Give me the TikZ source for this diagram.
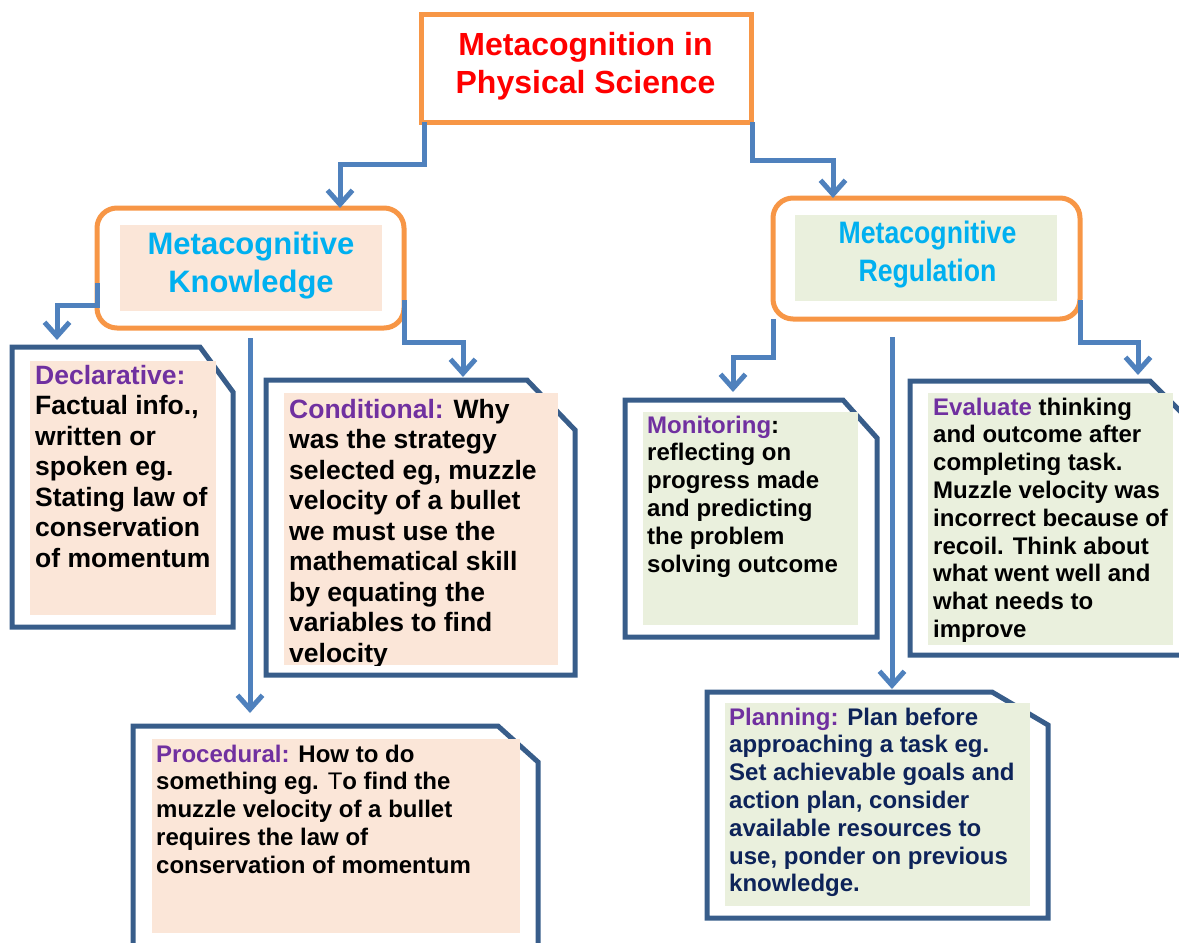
\documentclass[tikz,border=0pt]{standalone}
\usepackage{fontspec}
\setmainfont{Liberation Sans}
\newfontfamily\narrowsans{Liberation Sans}[FakeStretch=0.86]
\usetikzlibrary{arrows.meta,fit}

\definecolor{boxorange}{HTML}{F79646}
\definecolor{linkblue}{HTML}{4F81BD}
\definecolor{docblue}{HTML}{385D8A}
\definecolor{peach}{HTML}{FBE6D8}
\definecolor{sage}{HTML}{EAF0DD}
\definecolor{titlered}{HTML}{FF0000}
\definecolor{headcyan}{HTML}{00B0F0}
\definecolor{labelpurple}{HTML}{7030A0}
\definecolor{navy}{HTML}{0D2359}

% multi-line text whose reference point is the first baseline
\newcommand\linesL[1]{\parbox[t]{420pt}{\raggedright #1}}
\newcommand\linesC[1]{\parbox[t]{400pt}{\centering #1}}
\newcommand\lbl[1]{\textcolor{labelpurple}{#1}}
% document outline with a clipped top-right corner
\newcommand\dogear[3]{\draw[docline] (#1.north west) -- ([xshift=-#2pt]#1.north east)
  -- ([yshift=-#3pt]#1.north east) -- (#1.south east) -- (#1.south west) -- cycle;}

\begin{document}
\begin{tikzpicture}[x=1pt,y=-1pt,
  frame/.style={inner sep=0pt, outer sep=0pt},
  headbox/.style={frame, draw=boxorange, line width=5pt},
  docline/.style={draw=docblue, line width=5pt, line join=miter},
  peachfill/.style={frame, fill=peach},
  sagefill/.style={frame, fill=sage},
  conn/.style={draw=linkblue, line width=5pt, -{Straight Barb[length=14pt,width=25pt]}},
  txt/.style={inner sep=0pt, anchor=base west},
  ctxt/.style={inner sep=0pt, anchor=base},
  bigbody/.style={font=\fontsize{26.5pt}{30.5pt}\selectfont\bfseries},
  smallbody/.style={font=\fontsize{24pt}{27.8pt}\selectfont\bfseries},
]
\useasboundingbox (0,0) rectangle (1179,943);
\clip (0,0) rectangle (1179,943);

% ---- top concept ----
\node[headbox, fit={(421,14) (751,122)}] (title) {};
\node[ctxt, text=titlered, font=\fontsize{32pt}{38pt}\selectfont\bfseries] (titletext) at (585.5,55)
  {\linesC{Metacognition in\\Physical Science}};

% ---- second level ----
\node[headbox, rounded corners=20pt, fit={(97,208) (404,328)}] (knowl) {};
\node[peachfill, fit={(120,225) (382,311)}] (knowlfill) {};
\node[ctxt, text=headcyan, font=\fontsize{31pt}{38pt}\selectfont\bfseries] (knowltext) at (251,254)
  {\linesC{Metacognitive\\Knowledge}};

\node[headbox, rounded corners=20pt, fit={(773,198) (1080,319)}] (reg) {};
\node[sagefill, fit={(795,215) (1057,301)}] (regfill) {};
\node[ctxt, text=headcyan, font=\narrowsans\fontsize{31pt}{38pt}\selectfont\bfseries] (regtext) at (927.5,243)
  {\linesC{Metacognitive\\Regulation}};

% ---- document boxes ----
\node[frame, fit={(12,347) (233,627)}] (decl) {};
\dogear{decl}{33}{45}
\node[peachfill, fit={(30,361) (216,615)}] (declfill) {};
\node[txt, bigbody] (decltext) at (35,384)
  {\linesL{\lbl{Declarative:}\\Factual info.,\\written or\\spoken eg.\\Stating law of\\conservation\\of momentum}};

\node[frame, fit={(266,380) (575,675)}] (cond) {};
\dogear{cond}{48}{50}
\node[peachfill, fit={(284,393) (558,665)}] (condfill) {};
\begin{scope}
  \clip (condfill.north west) rectangle (condfill.south east);
  \node[txt, bigbody] (condtext) at (289,418)
    {\linesL{\lbl{Conditional:} Why\\was the strategy\\selected eg, muzzle\\velocity of a bullet\\we must use the\\mathematical skill\\by equating the\\variables to find\\velocity}};
\end{scope}

\node[frame, fit={(133,726) (538,960)}] (proc) {};
\dogear{proc}{40}{36}
\node[peachfill, fit={(152,739) (520,933)}] (procfill) {};
\node[txt, smallbody] (proctext) at (156,762)
  {\linesL{\lbl{Procedural:} How to do\\something eg. {\mdseries T}o find the\\muzzle velocity of a bullet\\requires the law of\\conservation of momentum}};

\node[frame, fit={(625,400) (877,637)}] (mon) {};
\dogear{mon}{34}{38}
\node[sagefill, fit={(643,412) (858,625)}] (monfill) {};
\node[txt, smallbody] (montext) at (647,433)
  {\linesL{\lbl{Monitoring}:\\reflecting on\\progress made\\and predicting\\the problem\\solving outcome}};

\node[frame, fit={(910,381) (1195,655)}] (eval) {};
\dogear{eval}{45}{45}
\node[sagefill, fit={(928,393) (1173,645)}] (evalfill) {};
\node[txt, smallbody] (evaltext) at (933,415)
  {\linesL{\lbl{Evaluate} thinking\\and outcome after\\completing task.\\Muzzle velocity was\\incorrect because of\\recoil. Think about\\what went well and\\what needs to\\improve}};

\node[frame, fit={(707,692) (1048,918)}] (plan) {};
\dogear{plan}{56}{33}
\node[sagefill, fit={(725,703) (1030,906)}] (planfill) {};
\node[txt, smallbody, text=navy] (plantext) at (729,725)
  {\linesL{\lbl{Planning:} Plan before\\approaching a task eg.\\Set achievable goals and\\action plan, consider\\available resources to\\use, ponder on previous\\knowledge.}};

% ---- connectors ----
\draw[conn] ([xshift=3pt]title.south west) -- ++(0,42) -| ([xshift=243pt]knowl.north west);
\draw[conn] ([xshift=1pt]title.south east) -- ++(0,38) -| ([xshift=60pt]reg.north west);

\draw[conn] ([yshift=-75pt]knowl.north west) -- ++(0,22) -| ([xshift=45pt,yshift=7pt]decl.north west);
\draw[conn] ([xshift=153pt,yshift=-10pt]knowl.south west) -- ([xshift=117pt,yshift=13pt]proc.north west);
\draw[conn] ([yshift=-92pt]knowl.north east) -- ++(0,42) -| ([xshift=197pt,yshift=3pt]cond.north west);

\draw[conn] (reg.south west) -- ++(0,38) -| ([xshift=108pt,yshift=8pt]mon.north west);
\draw[conn] ([xshift=119pt,yshift=-18pt]reg.south west) -- ([xshift=185pt,yshift=3pt]plan.north west);
\draw[conn] ([yshift=-102pt]reg.north east) -- ++(0,42) -| ([xshift=228pt,yshift=6pt]eval.north west);
\end{tikzpicture}
\end{document}
